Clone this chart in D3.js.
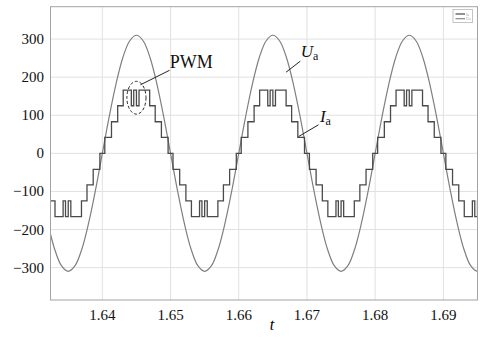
<!DOCTYPE html>
<html>
<head>
<meta charset="utf-8">
<script src="https://d3js.org/d3.v7.min.js"></script>
<style>
    body { margin: 0; background: #fff; }
    .grid line { stroke: #e1e1e1; stroke-width: 1; }
</style>
</head>
<body>
<div id="chart"></div>
<script>
// x ticks / y ticks
const xTicks = [1.64, 1.65, 1.66, 1.67, 1.68, 1.69];
const yTicks = [-300, -200, -100, 0, 100, 200, 300];

// Ua: sine voltage, read every 1 ms
const uaTime = [1.632, 1.633, 1.634, 1.635, 1.636, 1.637, 1.638, 1.639, 1.640, 1.641, 1.642, 1.643, 1.644,
    1.645, 1.646, 1.647, 1.648, 1.649, 1.650, 1.651, 1.652, 1.653, 1.654, 1.655, 1.656, 1.657, 1.658, 1.659,
    1.660, 1.661, 1.662, 1.663, 1.664, 1.665, 1.666, 1.667, 1.668, 1.669, 1.670, 1.671, 1.672, 1.673, 1.674,
    1.675, 1.676, 1.677, 1.678, 1.679, 1.680, 1.681, 1.682, 1.683, 1.684, 1.685, 1.686, 1.687, 1.688, 1.689,
    1.690, 1.691, 1.692, 1.693, 1.694, 1.695, 1.696];
const uaValue = [-182, -251, -295, -310, -295, -251, -182, -96, 0, 96, 182, 251, 295,
    310, 295, 251, 182, 96, 0, -96, -182, -251, -295, -310, -295, -251, -182, -96,
    0, 96, 182, 251, 295, 310, 295, 251, 182, 96, 0, -96, -182, -251, -295,
    -310, -295, -251, -182, -96, 0, 96, 182, 251, 295, 310, 295, 251, 182, 96,
    0, -96, -182, -251, -295, -310, -295];

// Ia: staircase with PWM notches, value holds from each time to the next
const iaTime = [1.6320, 1.63306, 1.63425, 1.63460, 1.63500, 1.63538, 1.63694, 1.63775, 1.63866, 1.63964,
    1.64036, 1.64134, 1.64225, 1.64306, 1.64425, 1.64460, 1.64500, 1.64538, 1.64694, 1.64775,
    1.64866, 1.64964, 1.65036, 1.65134, 1.65225, 1.65306, 1.65425, 1.65460, 1.65500, 1.65538,
    1.65694, 1.65775, 1.65866, 1.65964, 1.66036, 1.66134, 1.66225, 1.66306, 1.66425, 1.66460,
    1.66500, 1.66538, 1.66694, 1.66775, 1.66866, 1.66964, 1.67036, 1.67134, 1.67225, 1.67306,
    1.67425, 1.67460, 1.67500, 1.67538, 1.67694, 1.67775, 1.67866, 1.67964, 1.68036, 1.68134,
    1.68225, 1.68306, 1.68425, 1.68460, 1.68500, 1.68538, 1.68694, 1.68775, 1.68866, 1.68964,
    1.69036, 1.69134, 1.69225, 1.69306, 1.69425, 1.69460, 1.69500, 1.69538, 1.69600];
const iaValue = [-125, -166, -125, -166, -125, -166, -125, -83, -42, 0,
    42, 83, 125, 166, 125, 166, 125, 166, 125, 83,
    42, 0, -42, -83, -125, -166, -125, -166, -125, -166,
    -125, -83, -42, 0, 42, 83, 125, 166, 125, 166,
    125, 166, 125, 83, 42, 0, -42, -83, -125, -166,
    -125, -166, -125, -166, -125, -83, -42, 0, 42, 83,
    125, 166, 125, 166, 125, 166, 125, 83, 42, 0,
    -42, -83, -125, -166, -125, -166, -125, -166, -166];

const serif = "'Liberation Serif', 'DejaVu Serif', serif";
const width = 480, height = 342;
const margin = { left: 50.5, right: 2.5, top: 6.7, bottom: 42 };

const svg = d3.select("#chart").append("svg")
    .attr("width", width)
    .attr("height", height)
    .attr("font-family", serif)
    .style("display", "block");

const x = d3.scaleLinear().domain([1.6324, 1.695]).range([margin.left, width - margin.right]);
const y = d3.scaleLinear().domain([-385, 385]).range([height - margin.bottom, margin.top]);

// grid
const grid = svg.append("g").attr("class", "grid");
grid.selectAll(".gx").data(xTicks).enter().append("line")
    .attr("x1", d => x(d)).attr("x2", d => x(d))
    .attr("y1", y.range()[0]).attr("y2", y.range()[1]);
grid.selectAll(".gy").data(yTicks).enter().append("line")
    .attr("y1", d => y(d)).attr("y2", d => y(d))
    .attr("x1", x.range()[0]).attr("x2", x.range()[1]);

svg.append("clipPath").attr("id", "clip").append("rect")
    .attr("x", x.range()[0]).attr("y", y.range()[1])
    .attr("width", x.range()[1] - x.range()[0])
    .attr("height", y.range()[0] - y.range()[1]);

const plot = svg.append("g").attr("clip-path", "url(#clip)");

const uaLine = d3.line().x(d => x(d[0])).y(d => y(d[1])).curve(d3.curveCatmullRom.alpha(0.5));
const iaLine = d3.line().x(d => x(d[0])).y(d => y(d[1])).curve(d3.curveStepAfter);

plot.append("path")
    .datum(d3.zip(uaTime, uaValue))
    .attr("d", uaLine)
    .attr("fill", "none")
    .attr("stroke", "#7f7f7f")
    .attr("stroke-width", 1.2);

plot.append("path")
    .datum(d3.zip(iaTime, iaValue))
    .attr("d", iaLine)
    .attr("fill", "none")
    .attr("stroke", "#4a4a4a")
    .attr("stroke-width", 1.3);

// frame
svg.append("rect")
    .attr("x", x.range()[0]).attr("y", y.range()[1])
    .attr("width", x.range()[1] - x.range()[0])
    .attr("height", y.range()[0] - y.range()[1])
    .attr("fill", "none")
    .attr("stroke", "#a3a3a3")
    .attr("stroke-width", 1);

// tick labels
svg.selectAll(".xl").data(xTicks).enter().append("text")
    .attr("x", d => x(d))
    .attr("y", 320)
    .attr("text-anchor", "middle")
    .style("font-family", serif)
    .style("font-size", "15px")
    .attr("fill", "#111")
    .text(d => d3.format(".2f")(d));

svg.selectAll(".yl").data(yTicks).enter().append("text")
    .attr("x", 44)
    .attr("y", d => y(d) + 5)
    .attr("text-anchor", "end")
    .style("font-family", serif)
    .style("font-size", "15px")
    .attr("fill", "#111")
    .text(d => d < 0 ? "\u2212" + Math.abs(d) : d);

svg.append("text")
    .attr("x", (x.range()[0] + x.range()[1]) / 2 + 8)
    .attr("y", 330)
    .attr("text-anchor", "middle")
    .style("font-family", serif)
    .style("font-size", "16px")
    .style("font-style", "italic")
    .text("t");

// annotations (in data coordinates)
const pwmNote = { t: 1.6499, v: 225, lineFrom: [1.64985, 218], lineTo: [1.64559, 180] };
const pwmEllipse = { t: 1.645, v: 146, rt: 0.0014, rv: 43 };

svg.append("ellipse")
    .attr("cx", x(pwmEllipse.t))
    .attr("cy", y(pwmEllipse.v))
    .attr("rx", x(pwmEllipse.t + pwmEllipse.rt) - x(pwmEllipse.t))
    .attr("ry", y(pwmEllipse.v - pwmEllipse.rv) - y(pwmEllipse.v))
    .attr("fill", "none")
    .attr("stroke", "#222")
    .attr("stroke-width", 1)
    .attr("stroke-dasharray", "3,2");

svg.append("line")
    .attr("x1", x(pwmNote.lineFrom[0])).attr("y1", y(pwmNote.lineFrom[1]))
    .attr("x2", x(pwmNote.lineTo[0])).attr("y2", y(pwmNote.lineTo[1]))
    .attr("stroke", "#222").attr("stroke-width", 1);

svg.append("text")
    .attr("x", x(pwmNote.t))
    .attr("y", y(pwmNote.v))
    .style("font-family", serif)
    .style("font-size", "18px")
    .attr("fill", "#111")
    .text("PWM");

const labels = [
    { name: "U", t: 1.6691, v: 252, lineFrom: [1.66902, 242], lineTo: [1.66693, 213] },
    { name: "I", t: 1.6719, v: 83, lineFrom: [1.67169, 75], lineTo: [1.66876, 44] }
];

labels.forEach(l => {
    svg.append("line")
        .attr("x1", x(l.lineFrom[0])).attr("y1", y(l.lineFrom[1]))
        .attr("x2", x(l.lineTo[0])).attr("y2", y(l.lineTo[1]))
        .attr("stroke", "#222").attr("stroke-width", 1);
    const t = svg.append("text")
        .attr("x", x(l.t))
        .attr("y", y(l.v))
        .attr("fill", "#111")
        .style("font-family", serif)
        .style("font-size", "17px");
    t.append("tspan").style("font-style", "italic").text(l.name);
    t.append("tspan").attr("dy", 3).style("font-size", "12px").text("a");
});

// tiny legend box top right
const legendNames = ["Ia", "Ua"];
const legendColors = ["#4a4a4a", "#8a8a8a"];
const legend = svg.append("g").attr("transform", "translate(453,9.5)");
legend.append("rect")
    .attr("width", 19.5).attr("height", 13)
    .attr("fill", "#fff").attr("stroke", "#c4c4c4").attr("stroke-width", 1);
legendNames.forEach((n, i) => {
    legend.append("line")
        .attr("x1", 2.5).attr("x2", 12)
        .attr("y1", 4.5 + i * 4.7).attr("y2", 4.5 + i * 4.7)
        .attr("stroke", legendColors[i]).attr("stroke-width", 1.2);
    legend.append("text")
        .attr("x", 13).attr("y", 6 + i * 4.7)
        .style("font-size", "4px").attr("fill", "#aaa")
        .text(n);
});
</script>
</body>
</html>
